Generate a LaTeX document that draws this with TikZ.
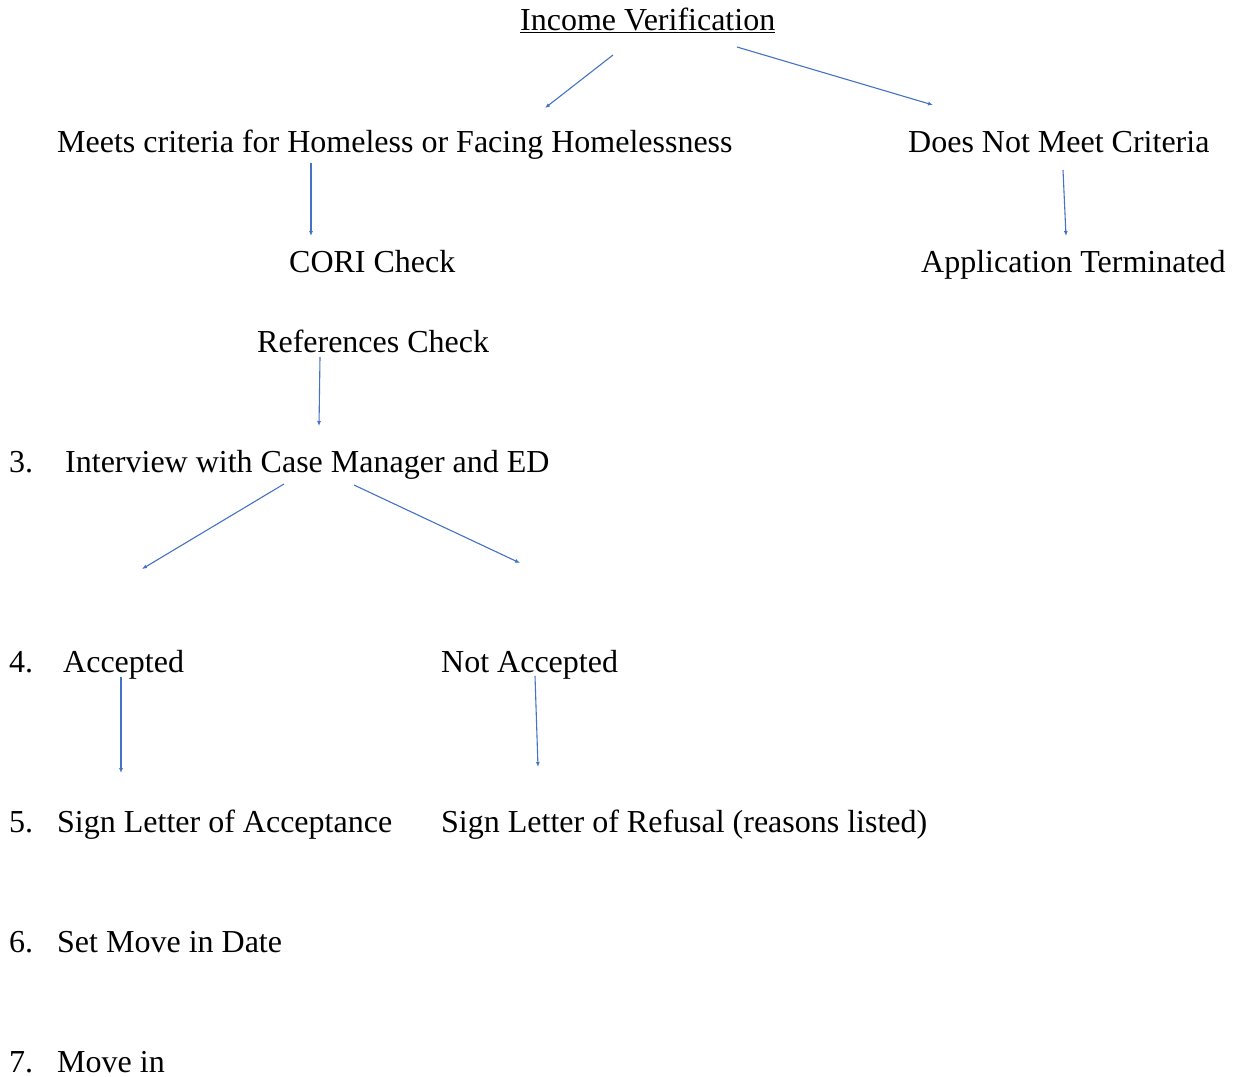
\documentclass[tikz,border=0pt]{standalone}
\usepackage{fontspec}
\setmainfont{Liberation Serif}
\usetikzlibrary{arrows.meta}
\definecolor{arrowblue}{HTML}{4472C4}
\tikzset{
  lbl/.style={anchor=base west, inner sep=0pt, font=\fontsize{32}{38}\selectfont},
  flow/.style={draw=arrowblue, line width=1.1pt, -{Latex[length=5pt,width=4pt]}}
}
\begin{document}
\begin{tikzpicture}[x=1pt,y=-1pt]
\useasboundingbox (0,0) rectangle (1236,1076);
% texts
\node[lbl] (income) at (520,30) {\underline{Income Verification}};
\node[lbl] (meets) at (57,152) {Meets criteria for Homeless or Facing Homelessness};
\node[lbl] (notmeet) at (908,152) {Does Not Meet Criteria};
\node[lbl] (cori) at (289,272) {CORI Check};
\node[lbl] (term) at (921,272) {Application Terminated};
\node[lbl] (refs) at (257,352) {References Check};
\node[lbl] (n3) at (9,472) {3.};
\node[lbl] (interview) at (65,472) {Interview with Case Manager and ED};
\node[lbl] (n4) at (9,672) {4.};
\node[lbl] (acc) at (63,672) {Accepted};
\node[lbl] (notacc) at (441,672) {Not Accepted};
\node[lbl] (n5) at (9,832) {5.};
\node[lbl] (signacc) at (57,832) {Sign Letter of Acceptance};
\node[lbl] (signref) at (441,832) {Sign Letter of Refusal (reasons listed)};
\node[lbl] (n6) at (9,952) {6.};
\node[lbl] (movedate) at (57,952) {Set Move in Date};
\node[lbl] (n7) at (9,1072) {7.};
\node[lbl] (movein) at (57,1072) {Move in};
% arrow end points
\coordinate (a1s) at (613,55);  \coordinate (a1e) at (545,108);
\coordinate (a2s) at (737,47);  \coordinate (a2e) at (933,105);
\coordinate (a3s) at (311,163); \coordinate (a3e) at (311,236);
\coordinate (a4s) at (1063,170); \coordinate (a4e) at (1066,236);
\coordinate (a5s) at (320,357); \coordinate (a5e) at (319,426);
\coordinate (a6s) at (284,484); \coordinate (a6e) at (142,569);
\coordinate (a7s) at (354,485); \coordinate (a7e) at (520,563);
\coordinate (a8s) at (121,677); \coordinate (a8e) at (121,773);
\coordinate (a9s) at (535,676); \coordinate (a9e) at (538,767);
\foreach \i in {1,...,9} { \draw[flow] (a\i s) -- (a\i e); }
\end{tikzpicture}
\end{document}
